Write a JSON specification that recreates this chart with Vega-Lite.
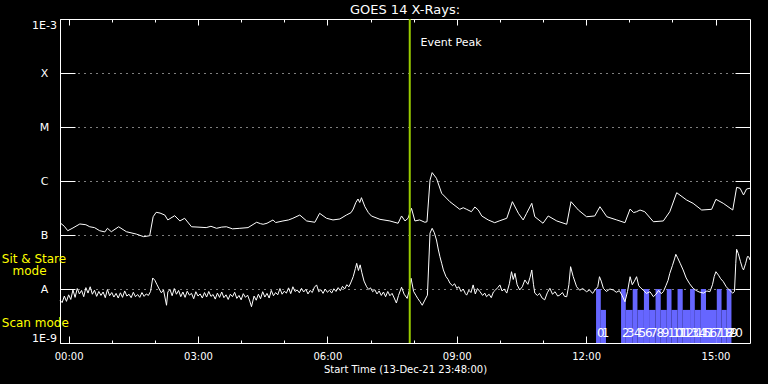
{
"$schema": "https://vega.github.io/schema/vega-lite/v6.json",
"autosize": {"type": "none"},
"padding": {"left": 60, "top": 19, "right": 18, "bottom": 41},
"width": 690,
"height": 324,
"background": "black",
"config": {"font": "DejaVu Sans", "view": {"stroke": "white", "strokeWidth": 1}},
"title": {"text": "GOES 14 X-Rays:", "color": "white", "fontSize": 13, "fontWeight": "normal", "anchor": "middle", "offset": 1},
"datasets": {
"long": [
{"t":-0.2,"flux":1.69e-7},{"t":-0.1,"flux":1.45e-7},{"t":-0.02,"flux":1.20e-7},{"t":0.1,"flux":1.35e-7},{"t":0.26,"flux":1.60e-7},{"t":0.4,"flux":1.55e-7},{"t":0.49,"flux":1.42e-7},{"t":0.6,"flux":1.37e-7},{"t":0.72,"flux":1.20e-7},{"t":0.84,"flux":1.14e-7},{"t":0.9,"flux":1.33e-7},{"t":0.99,"flux":1.15e-7},{"t":1.16,"flux":1.42e-7},{"t":1.34,"flux":1.15e-7},{"t":1.57,"flux":1.04e-7},{"t":1.74,"flux":0.93e-7},{"t":1.88,"flux":0.97e-7},{"t":1.96,"flux":2.18e-7},{"t":2.03,"flux":2.63e-7},{"t":2.12,"flux":2.55e-7},{"t":2.23,"flux":2.34e-7},{"t":2.30,"flux":1.90e-7},{"t":2.46,"flux":2.28e-7},{"t":2.58,"flux":1.82e-7},{"t":2.69,"flux":2.04e-7},{"t":2.85,"flux":1.42e-7},{"t":3.0,"flux":1.40e-7},{"t":3.19,"flux":1.37e-7},{"t":3.3,"flux":1.45e-7},{"t":3.43,"flux":1.33e-7},{"t":3.55,"flux":1.40e-7},{"t":3.66,"flux":1.42e-7},{"t":3.8,"flux":1.30e-7},{"t":3.97,"flux":1.33e-7},{"t":4.16,"flux":1.37e-7},{"t":4.36,"flux":1.72e-7},{"t":4.45,"flux":1.62e-7},{"t":4.51,"flux":1.58e-7},{"t":4.6,"flux":1.65e-7},{"t":4.74,"flux":1.90e-7},{"t":4.8,"flux":1.70e-7},{"t":4.97,"flux":1.82e-7},{"t":5.1,"flux":1.90e-7},{"t":5.20,"flux":2.04e-7},{"t":5.36,"flux":2.34e-7},{"t":5.52,"flux":1.82e-7},{"t":5.71,"flux":1.72e-7},{"t":5.82,"flux":2.52e-7},{"t":5.98,"flux":2.04e-7},{"t":6.13,"flux":1.90e-7},{"t":6.29,"flux":1.98e-7},{"t":6.44,"flux":2.34e-7},{"t":6.55,"flux":2.6e-7},{"t":6.60,"flux":3.03e-7},{"t":6.66,"flux":4.0e-7},{"t":6.71,"flux":4.64e-7},{"t":6.75,"flux":4.0e-7},{"t":6.79,"flux":4.91e-7},{"t":6.87,"flux":3.34e-7},{"t":6.95,"flux":2.6e-7},{"t":7.02,"flux":2.25e-7},{"t":7.22,"flux":1.95e-7},{"t":7.45,"flux":1.82e-7},{"t":7.64,"flux":1.65e-7},{"t":7.72,"flux":2.25e-7},{"t":7.80,"flux":1.82e-7},{"t":7.87,"flux":2.04e-7},{"t":7.95,"flux":3.12e-7},{"t":8.03,"flux":1.82e-7},{"t":8.14,"flux":1.90e-7},{"t":8.26,"flux":1.72e-7},{"t":8.31,"flux":1.76e-7},{"t":8.38,"flux":1.04e-6},{"t":8.43,"flux":1.43e-6},{"t":8.53,"flux":1.12e-6},{"t":8.65,"flux":5.92e-7},{"t":8.84,"flux":4.14e-7},{"t":9.07,"flux":2.99e-7},{"t":9.15,"flux":3.2e-7},{"t":9.23,"flux":2.99e-7},{"t":9.34,"flux":2.70e-7},{"t":9.42,"flux":3.3e-7},{"t":9.50,"flux":2.90e-7},{"t":9.58,"flux":2.25e-7},{"t":9.73,"flux":1.90e-7},{"t":9.88,"flux":1.69e-7},{"t":10.0,"flux":1.84e-7},{"t":10.16,"flux":2.04e-7},{"t":10.29,"flux":4.14e-7},{"t":10.43,"flux":2.52e-7},{"t":10.54,"flux":1.90e-7},{"t":10.62,"flux":2.52e-7},{"t":10.74,"flux":3.86e-7},{"t":10.81,"flux":2.18e-7},{"t":11.0,"flux":1.65e-7},{"t":11.12,"flux":2.25e-7},{"t":11.32,"flux":1.82e-7},{"t":11.55,"flux":1.58e-7},{"t":11.65,"flux":4.14e-7},{"t":11.82,"flux":2.90e-7},{"t":12.01,"flux":2.18e-7},{"t":12.20,"flux":2.25e-7},{"t":12.32,"flux":3.34e-7},{"t":12.48,"flux":2.18e-7},{"t":12.71,"flux":1.90e-7},{"t":12.90,"flux":1.69e-7},{"t":13.02,"flux":3.03e-7},{"t":13.1,"flux":2.6e-7},{"t":13.17,"flux":2.70e-7},{"t":13.25,"flux":2.9e-7},{"t":13.36,"flux":2.70e-7},{"t":13.56,"flux":1.76e-7},{"t":13.79,"flux":1.82e-7},{"t":13.94,"flux":2.70e-7},{"t":14.10,"flux":6.07e-7},{"t":14.33,"flux":4.45e-7},{"t":14.48,"flux":3.86e-7},{"t":14.68,"flux":2.90e-7},{"t":14.91,"flux":2.99e-7},{"t":15.01,"flux":4.58e-7},{"t":15.18,"flux":3.86e-7},{"t":15.40,"flux":2.90e-7},{"t":15.49,"flux":7.64e-7},{"t":15.57,"flux":7.33e-7},{"t":15.65,"flux":5.51e-7},{"t":15.72,"flux":7.11e-7},{"t":15.80,"flux":7.33e-7}
],
"short": [
{"t":-0.20,"flux":6.2e-9},{"t":-0.15,"flux":5.6e-9},{"t":-0.10,"flux":7.4e-9},{"t":-0.05,"flux":5.9e-9},{"t":0.00,"flux":7.8e-9},{"t":0.05,"flux":6.4e-9},{"t":0.10,"flux":9.6e-9},{"t":0.15,"flux":7.0e-9},{"t":0.20,"flux":10.2e-9},{"t":0.25,"flux":8.1e-9},{"t":0.30,"flux":9.4e-9},{"t":0.35,"flux":7.2e-9},{"t":0.40,"flux":10.6e-9},{"t":0.45,"flux":8.4e-9},{"t":0.50,"flux":11.0e-9},{"t":0.55,"flux":8.0e-9},{"t":0.60,"flux":9.5e-9},{"t":0.65,"flux":7.3e-9},{"t":0.70,"flux":9.0e-9},{"t":0.75,"flux":7.6e-9},{"t":0.80,"flux":8.8e-9},{"t":0.85,"flux":6.9e-9},{"t":0.90,"flux":9.8e-9},{"t":0.95,"flux":7.5e-9},{"t":1.00,"flux":8.6e-9},{"t":1.05,"flux":7.1e-9},{"t":1.10,"flux":8.3e-9},{"t":1.15,"flux":6.8e-9},{"t":1.20,"flux":8.5e-9},{"t":1.25,"flux":7.0e-9},{"t":1.30,"flux":9.2e-9},{"t":1.35,"flux":7.4e-9},{"t":1.40,"flux":8.0e-9},{"t":1.45,"flux":6.9e-9},{"t":1.50,"flux":8.7e-9},{"t":1.55,"flux":7.2e-9},{"t":1.60,"flux":7.9e-9},{"t":1.65,"flux":7.0e-9},{"t":1.70,"flux":8.6e-9},{"t":1.75,"flux":7.3e-9},{"t":1.80,"flux":8.1e-9},{"t":1.85,"flux":7.6e-9},{"t":1.90,"flux":9.0e-9},{"t":1.95,"flux":16.0e-9},{"t":2.00,"flux":14.5e-9},{"t":2.05,"flux":12.0e-9},{"t":2.10,"flux":10.0e-9},{"t":2.15,"flux":8.5e-9},{"t":2.20,"flux":9.6e-9},{"t":2.27,"flux":5.0e-9},{"t":2.30,"flux":8.8e-9},{"t":2.35,"flux":9.8e-9},{"t":2.40,"flux":7.5e-9},{"t":2.45,"flux":10.2e-9},{"t":2.50,"flux":8.0e-9},{"t":2.55,"flux":9.4e-9},{"t":2.60,"flux":7.2e-9},{"t":2.65,"flux":8.8e-9},{"t":2.70,"flux":7.0e-9},{"t":2.75,"flux":9.1e-9},{"t":2.80,"flux":7.7e-9},{"t":2.85,"flux":8.3e-9},{"t":2.90,"flux":6.6e-9},{"t":2.95,"flux":8.9e-9},{"t":3.00,"flux":7.4e-9},{"t":3.05,"flux":8.1e-9},{"t":3.10,"flux":6.8e-9},{"t":3.15,"flux":8.6e-9},{"t":3.20,"flux":7.1e-9},{"t":3.25,"flux":9.0e-9},{"t":3.30,"flux":7.3e-9},{"t":3.35,"flux":7.9e-9},{"t":3.40,"flux":6.5e-9},{"t":3.45,"flux":8.4e-9},{"t":3.50,"flux":7.0e-9},{"t":3.55,"flux":8.8e-9},{"t":3.60,"flux":6.9e-9},{"t":3.65,"flux":7.8e-9},{"t":3.70,"flux":6.4e-9},{"t":3.75,"flux":8.0e-9},{"t":3.80,"flux":7.2e-9},{"t":3.85,"flux":8.7e-9},{"t":3.90,"flux":6.7e-9},{"t":3.95,"flux":7.6e-9},{"t":4.00,"flux":6.3e-9},{"t":4.05,"flux":8.2e-9},{"t":4.10,"flux":7.0e-9},{"t":4.15,"flux":7.7e-9},{"t":4.20,"flux":6.0e-9},{"t":4.24,"flux":4.7e-9},{"t":4.30,"flux":7.4e-9},{"t":4.35,"flux":6.2e-9},{"t":4.40,"flux":8.0e-9},{"t":4.45,"flux":6.6e-9},{"t":4.50,"flux":8.9e-9},{"t":4.55,"flux":7.1e-9},{"t":4.60,"flux":8.3e-9},{"t":4.65,"flux":6.8e-9},{"t":4.70,"flux":9.4e-9},{"t":4.75,"flux":7.5e-9},{"t":4.80,"flux":8.6e-9},{"t":4.85,"flux":7.8e-9},{"t":4.90,"flux":10.2e-9},{"t":4.95,"flux":8.0e-9},{"t":5.00,"flux":9.1e-9},{"t":5.05,"flux":8.4e-9},{"t":5.10,"flux":10.5e-9},{"t":5.15,"flux":8.2e-9},{"t":5.20,"flux":11.0e-9},{"t":5.25,"flux":9.0e-9},{"t":5.30,"flux":9.6e-9},{"t":5.35,"flux":8.5e-9},{"t":5.40,"flux":10.3e-9},{"t":5.45,"flux":8.8e-9},{"t":5.50,"flux":9.9e-9},{"t":5.55,"flux":8.1e-9},{"t":5.60,"flux":9.4e-9},{"t":5.65,"flux":8.6e-9},{"t":5.70,"flux":10.8e-9},{"t":5.75,"flux":11.9e-9},{"t":5.80,"flux":8.9e-9},{"t":5.85,"flux":9.7e-9},{"t":5.90,"flux":8.3e-9},{"t":5.95,"flux":10.0e-9},{"t":6.00,"flux":8.7e-9},{"t":6.05,"flux":9.5e-9},{"t":6.10,"flux":8.4e-9},{"t":6.15,"flux":10.1e-9},{"t":6.20,"flux":9.0e-9},{"t":6.25,"flux":10.6e-9},{"t":6.30,"flux":9.3e-9},{"t":6.35,"flux":11.2e-9},{"t":6.40,"flux":10.0e-9},{"t":6.45,"flux":12.0e-9},{"t":6.50,"flux":11.0e-9},{"t":6.55,"flux":13.5e-9},{"t":6.60,"flux":17.0e-9},{"t":6.65,"flux":24.0e-9},{"t":6.68,"flux":29.9e-9},{"t":6.72,"flux":22.0e-9},{"t":6.76,"flux":28.0e-9},{"t":6.80,"flux":20.0e-9},{"t":6.85,"flux":14.0e-9},{"t":6.91,"flux":11.0e-9},{"t":6.96,"flux":9.8e-9},{"t":7.00,"flux":10.5e-9},{"t":7.05,"flux":8.9e-9},{"t":7.10,"flux":9.7e-9},{"t":7.15,"flux":8.1e-9},{"t":7.20,"flux":9.2e-9},{"t":7.25,"flux":7.6e-9},{"t":7.30,"flux":8.8e-9},{"t":7.35,"flux":7.2e-9},{"t":7.40,"flux":9.0e-9},{"t":7.45,"flux":7.5e-9},{"t":7.50,"flux":8.3e-9},{"t":7.55,"flux":6.8e-9},{"t":7.60,"flux":5.5e-9},{"t":7.65,"flux":7.6e-9},{"t":7.72,"flux":10.8e-9},{"t":7.78,"flux":8.0e-9},{"t":7.85,"flux":6.7e-9},{"t":7.90,"flux":9.5e-9},{"t":7.94,"flux":15.8e-9},{"t":8.00,"flux":9.0e-9},{"t":8.05,"flux":7.7e-9},{"t":8.10,"flux":6.6e-9},{"t":8.15,"flux":5.8e-9},{"t":8.20,"flux":5.0e-9},{"t":8.25,"flux":6.0e-9},{"t":8.32,"flux":7.7e-9},{"t":8.38,"flux":108e-9},{"t":8.43,"flux":133e-9},{"t":8.48,"flux":110e-9},{"t":8.53,"flux":80.8e-9},{"t":8.57,"flux":55e-9},{"t":8.61,"flux":39.6e-9},{"t":8.65,"flux":30e-9},{"t":8.69,"flux":22.5e-9},{"t":8.75,"flux":17e-9},{"t":8.80,"flux":15e-9},{"t":8.84,"flux":12.9e-9},{"t":8.90,"flux":11.5e-9},{"t":8.95,"flux":12.5e-9},{"t":9.00,"flux":10.3e-9},{"t":9.05,"flux":11.0e-9},{"t":9.10,"flux":9.0e-9},{"t":9.15,"flux":10.0e-9},{"t":9.20,"flux":8.2e-9},{"t":9.23,"flux":7.7e-9},{"t":9.28,"flux":9.5e-9},{"t":9.33,"flux":8.6e-9},{"t":9.38,"flux":11.9e-9},{"t":9.43,"flux":8.1e-9},{"t":9.48,"flux":10.2e-9},{"t":9.54,"flux":8.9e-9},{"t":9.60,"flux":7.6e-9},{"t":9.65,"flux":8.4e-9},{"t":9.69,"flux":7.2e-9},{"t":9.75,"flux":8.0e-9},{"t":9.80,"flux":6.9e-9},{"t":9.85,"flux":8.8e-9},{"t":9.90,"flux":9.6e-9},{"t":9.95,"flux":10.6e-9},{"t":10.00,"flux":11.9e-9},{"t":10.05,"flux":9.2e-9},{"t":10.10,"flux":10.0e-9},{"t":10.16,"flux":8.4e-9},{"t":10.22,"flux":12.5e-9},{"t":10.27,"flux":20.9e-9},{"t":10.31,"flux":15.0e-9},{"t":10.35,"flux":19.5e-9},{"t":10.40,"flux":12.0e-9},{"t":10.46,"flux":9.6e-9},{"t":10.52,"flux":11.0e-9},{"t":10.58,"flux":14.7e-9},{"t":10.65,"flux":12.2e-9},{"t":10.70,"flux":16.5e-9},{"t":10.74,"flux":22.5e-9},{"t":10.78,"flux":12.0e-9},{"t":10.81,"flux":8.4e-9},{"t":10.87,"flux":7.6e-9},{"t":10.92,"flux":8.3e-9},{"t":10.98,"flux":6.8e-9},{"t":11.04,"flux":6.3e-9},{"t":11.10,"flux":8.5e-9},{"t":11.16,"flux":10.3e-9},{"t":11.22,"flux":8.0e-9},{"t":11.28,"flux":8.9e-9},{"t":11.34,"flux":7.4e-9},{"t":11.39,"flux":7.7e-9},{"t":11.45,"flux":8.6e-9},{"t":11.50,"flux":7.3e-9},{"t":11.55,"flux":7.2e-9},{"t":11.60,"flux":12.0e-9},{"t":11.64,"flux":25.9e-9},{"t":11.70,"flux":17.0e-9},{"t":11.78,"flux":11.0e-9},{"t":11.85,"flux":9.5e-9},{"t":11.92,"flux":10.2e-9},{"t":12.01,"flux":8.9e-9},{"t":12.08,"flux":9.6e-9},{"t":12.15,"flux":8.3e-9},{"t":12.22,"flux":9.9e-9},{"t":12.27,"flux":11.0e-9},{"t":12.31,"flux":16.9e-9},{"t":12.35,"flux":14.0e-9},{"t":12.40,"flux":10.3e-9},{"t":12.47,"flux":9.0e-9},{"t":12.55,"flux":10.0e-9},{"t":12.63,"flux":9.6e-9},{"t":12.70,"flux":8.7e-9},{"t":12.77,"flux":9.3e-9},{"t":12.83,"flux":7.7e-9},{"t":12.90,"flux":5.8e-9},{"t":12.96,"flux":9.0e-9},{"t":13.02,"flux":16.9e-9},{"t":13.07,"flux":12.0e-9},{"t":13.12,"flux":14.0e-9},{"t":13.17,"flux":16.9e-9},{"t":13.22,"flux":11.5e-9},{"t":13.27,"flux":10.4e-9},{"t":13.32,"flux":9.6e-9},{"t":13.40,"flux":8.3e-9},{"t":13.48,"flux":8.9e-9},{"t":13.56,"flux":7.2e-9},{"t":13.62,"flux":8.0e-9},{"t":13.68,"flux":9.4e-9},{"t":13.74,"flux":8.2e-9},{"t":13.79,"flux":8.9e-9},{"t":13.85,"flux":11.5e-9},{"t":13.90,"flux":14.5e-9},{"t":13.94,"flux":19.5e-9},{"t":14.00,"flux":27e-9},{"t":14.05,"flux":36e-9},{"t":14.08,"flux":43.9e-9},{"t":14.12,"flux":38e-9},{"t":14.18,"flux":30e-9},{"t":14.25,"flux":22.5e-9},{"t":14.32,"flux":16e-9},{"t":14.40,"flux":12.5e-9},{"t":14.48,"flux":10.3e-9},{"t":14.55,"flux":9.4e-9},{"t":14.62,"flux":8.8e-9},{"t":14.72,"flux":8.4e-9},{"t":14.80,"flux":9.2e-9},{"t":14.87,"flux":8.9e-9},{"t":14.93,"flux":12e-9},{"t":14.97,"flux":17e-9},{"t":15.01,"flux":20.9e-9},{"t":15.07,"flux":18e-9},{"t":15.12,"flux":15.5e-9},{"t":15.18,"flux":13.7e-9},{"t":15.25,"flux":11e-9},{"t":15.32,"flux":9.6e-9},{"t":15.40,"flux":8.4e-9},{"t":15.44,"flux":9.0e-9},{"t":15.47,"flux":30e-9},{"t":15.49,"flux":54.3e-9},{"t":15.53,"flux":45e-9},{"t":15.58,"flux":32e-9},{"t":15.62,"flux":25e-9},{"t":15.65,"flux":22.5e-9},{"t":15.70,"flux":30e-9},{"t":15.74,"flux":40e-9},{"t":15.77,"flux":39.6e-9},{"t":15.80,"flux":34.5e-9}
],
"bars": [
{"t0":12.23,"t1":12.34,"top":1e-8,"label":"0"},{"t0":12.34,"t1":12.46,"top":4.1e-9,"label":"1"},{"t0":12.81,"t1":12.92,"top":1e-8,"label":"2"},{"t0":12.92,"t1":13.08,"top":4.1e-9,"label":"3"},{"t0":13.08,"t1":13.19,"top":1e-8,"label":"4"},{"t0":13.19,"t1":13.34,"top":4.1e-9,"label":"5"},{"t0":13.34,"t1":13.46,"top":1e-8,"label":"6"},{"t0":13.46,"t1":13.61,"top":4.1e-9,"label":"7"},{"t0":13.61,"t1":13.73,"top":1e-8,"label":"8"},{"t0":13.73,"t1":13.87,"top":4.1e-9,"label":"9"},{"t0":13.87,"t1":13.98,"top":1e-8,"label":"10"},{"t0":13.98,"t1":14.12,"top":4.1e-9,"label":"11"},{"t0":14.12,"t1":14.24,"top":1e-8,"label":"12"},{"t0":14.24,"t1":14.41,"top":4.1e-9,"label":"13"},{"t0":14.41,"t1":14.52,"top":1e-8,"label":"14"},{"t0":14.52,"t1":14.66,"top":4.1e-9,"label":"15"},{"t0":14.66,"t1":14.78,"top":1e-8,"label":"16"},{"t0":14.78,"t1":15.03,"top":4.1e-9,"label":"17"},{"t0":15.03,"t1":15.14,"top":1e-8,"label":"18"},{"t0":15.14,"t1":15.26,"top":4.1e-9,"label":"19"},{"t0":15.26,"t1":15.37,"top":1e-8,"label":"20"}
],
"modes": [
{"t":-1.55,"flux":3.59e-8,"label":"Sit & Stare"},{"t":-1.30,"flux":2.15e-8,"label":"mode"},{"t":-1.55,"flux":2.35e-9,"label":"Scan mode"}
]
},
"resolve": {"axis": {"x": "independent", "y": "independent"}},
"layer": [
{
"data": {"name": "bars"},
"mark": {"type": "rect", "color": "#6666ff"},
"encoding": {
"x": {"field": "t0", "type": "quantitative", "scale": {"domain": [-0.2, 15.8], "nice": false, "zero": false}, "axis": null},
"x2": {"field": "t1"},
"y": {"field": "top", "type": "quantitative", "scale": {"type": "log", "domain": [1e-9, 1e-3], "nice": false}, "axis": null},
"y2": {"datum": 1e-9}
}
},
{
"data": {"name": "long"},
"mark": {"type": "line", "color": "white", "strokeWidth": 1},
"encoding": {
"x": {"field": "t", "type": "quantitative",
"axis": {"orient": "bottom", "values": [0,1,2,3,4,5,6,7,8,9,10,11,12,13,14,15], "domain": false, "grid": false, "tickColor": "white", "tickWidth": 1,
"tickSize": {"condition": {"test": "datum.value % 3 === 0", "value": -7}, "value": -3},
"labelExpr": "datum.value % 3 === 0 ? (datum.value < 10 ? '0' : '') + datum.value + ':00' : ''",
"labelColor": "white", "labelFontSize": 10, "labelPadding": 15, "labelFlush": false, "labelOverlap": false, "labelBaseline": "top",
"title": "Start Time (13-Dec-21 23:48:00)", "titleColor": "white", "titleFontSize": 10, "titleFontWeight": "normal", "titleY": 21, "titleBaseline": "top"}},
"y": {"field": "flux", "type": "quantitative",
"axis": {"orient": "left", "values": [1e-9,1e-8,1e-7,1e-6,1e-5,1e-4,1e-3], "domain": false, "grid": true, "gridColor": "white", "gridDash": [1,5], "gridWidth": 1, "tickColor": "white", "tickSize": -15,
"labelExpr": "datum.value >= 9e-4 ? '1E-3' : datum.value >= 9e-5 ? 'X' : datum.value >= 9e-6 ? 'M' : datum.value >= 9e-7 ? 'C' : datum.value >= 9e-8 ? 'B' : datum.value >= 9e-9 ? 'A' : '1E-9'",
"labelColor": "white", "labelFontSize": 11, "labelAlign": "center", "labelPadding": 31, "labelFlush": true, "labelOverlap": false, "title": null}}
}
},
{
"data": {"name": "short"},
"mark": {"type": "line", "color": "white", "strokeWidth": 1},
"encoding": {
"x": {"field": "t", "type": "quantitative",
"axis": {"orient": "top", "values": [0,1,2,3,4,5,6,7,8,9,10,11,12,13,14,15], "domain": false, "grid": false, "labels": false, "tickColor": "white",
"tickSize": {"condition": {"test": "datum.value % 3 === 0", "value": -6}, "value": -3}, "title": null}},
"y": {"field": "flux", "type": "quantitative",
"axis": {"orient": "right", "values": [1e-8,1e-7,1e-6,1e-5,1e-4], "domain": false, "grid": false, "labels": false, "tickColor": "white", "tickSize": -15, "title": null}}
}
},
{
"data": {"values": [{"t": 7.91}]},
"mark": {"type": "rule", "color": "#99cc00", "strokeWidth": 2},
"encoding": {"x": {"field": "t", "type": "quantitative", "axis": null}}
},
{
"data": {"name": "bars"},
"mark": {"type": "text", "color": "white", "fontSize": 12, "align": "left", "baseline": "middle", "dx": 1},
"encoding": {
"x": {"field": "t0", "type": "quantitative", "axis": null},
"y": {"datum": 1.53e-9, "type": "quantitative", "axis": null},
"text": {"field": "label"}
}
},
{
"data": {"values": [{"t": 8.16, "flux": 3.67e-4, "label": "Event Peak"}]},
"mark": {"type": "text", "color": "white", "fontSize": 11, "align": "left", "baseline": "middle"},
"encoding": {
"x": {"field": "t", "type": "quantitative", "axis": null},
"y": {"field": "flux", "type": "quantitative", "axis": null},
"text": {"field": "label"}
}
},
{
"data": {"name": "modes"},
"mark": {"type": "text", "color": "#ffff00", "fontSize": 12, "align": "left", "baseline": "middle"},
"encoding": {
"x": {"field": "t", "type": "quantitative", "axis": null},
"y": {"field": "flux", "type": "quantitative", "axis": null},
"text": {"field": "label"}
}
}
]
}
